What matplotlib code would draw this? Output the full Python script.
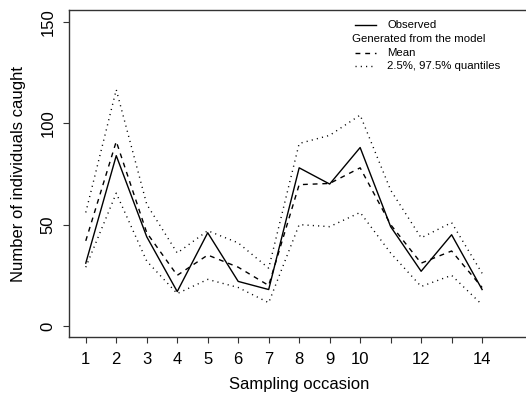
import matplotlib
matplotlib.use("Agg")
import matplotlib.pyplot as plt
from matplotlib.lines import Line2D

plt.rcParams['font.family'] = ['Liberation Sans', 'DejaVu Sans']

occasion = list(range(1, 15))
observed = [31, 84, 44, 17, 46, 22, 18, 78, 70, 88, 49, 27, 45, 18]
mean_gen = [42, 91, 46, 25, 35, 29, 20, 69.7, 70.3, 78, 50, 31, 37, 19]
lower_q = [29, 65.5, 32, 16, 23, 19, 11.5, 50, 49, 56, 36, 19.5, 25, 10.5]
upper_q = [56, 116.5, 60, 36, 47, 41, 28.5, 90, 94, 104, 67, 43.5, 51, 26]

xtick_pos = list(range(1, 15))
xtick_labels = ['1', '2', '3', '4', '5', '6', '7', '8', '9', '10', '', '12', '', '14']
ytick_pos = [0, 50, 100, 150]

W, H = 526, 399
fig = plt.figure(figsize=(W / 100, H / 100), dpi=100)
left, right, top, bottom = 69, 526, 10, 337
ax = fig.add_axes([left / W, 1 - bottom / H, (right - left) / W, (bottom - top) / H])

lw = 1.0
ax.plot(occasion, observed, color='black', lw=lw, ls='-')
ax.plot(occasion, mean_gen, color='black', lw=lw, ls=(0, (3.5, 3.5)))
ax.plot(occasion, lower_q, color='black', lw=lw, ls=(0, (0.8, 3)))
ax.plot(occasion, upper_q, color='black', lw=lw, ls=(0, (0.8, 3)))

ax.set_xlim(0.45, 15.44)
ax.set_ylim(-5.4, 155.8)

fs = 12
ax.set_xticks(xtick_pos)
ax.set_xticklabels(xtick_labels, fontsize=fs)
ax.set_yticks(ytick_pos)
ax.set_yticklabels([str(v) for v in ytick_pos], fontsize=fs, rotation=90, va='center')
ax.tick_params(axis='both', direction='out', length=4.5, width=0.8, color='#333333')
ax.tick_params(axis='x', pad=6.2)
ax.tick_params(axis='y', pad=5)
for s in ['left', 'bottom', 'top']:
    ax.spines[s].set_color('#333333')
    ax.spines[s].set_linewidth(1.0)
ax.spines['right'].set_visible(False)

fig.text(299 / W, 1 - 384 / H, 'Sampling occasion', ha='center', va='center', fontsize=fs)
fig.text(19 / W, 1 - 173.5 / H, 'Number of individuals caught', ha='center', va='center',
         rotation=90, fontsize=fs)

# legend
def fx(px):
    return px / W

def fy(py):
    return 1 - py / H

leg_fs = 8.2
entries = [
    (25.3, '-', 'Observed'),
    (52.7, (0, (3.5, 3.5)), 'Mean'),
    (66.0, (0, (0.8, 3)), '2.5%, 97.5% quantiles'),
]
for yy, ls, label in entries:
    fig.add_artist(Line2D([fx(355), fx(376)], [fy(yy), fy(yy)], color='black', lw=lw, ls=ls,
                          transform=fig.transFigure))
    fig.text(fx(387), fy(yy), label, ha='left', va='center', fontsize=leg_fs)
fig.text(fx(352), fy(39.5), 'Generated from the model', ha='left', va='center', fontsize=leg_fs)

fig.savefig('out.png', dpi=100)
